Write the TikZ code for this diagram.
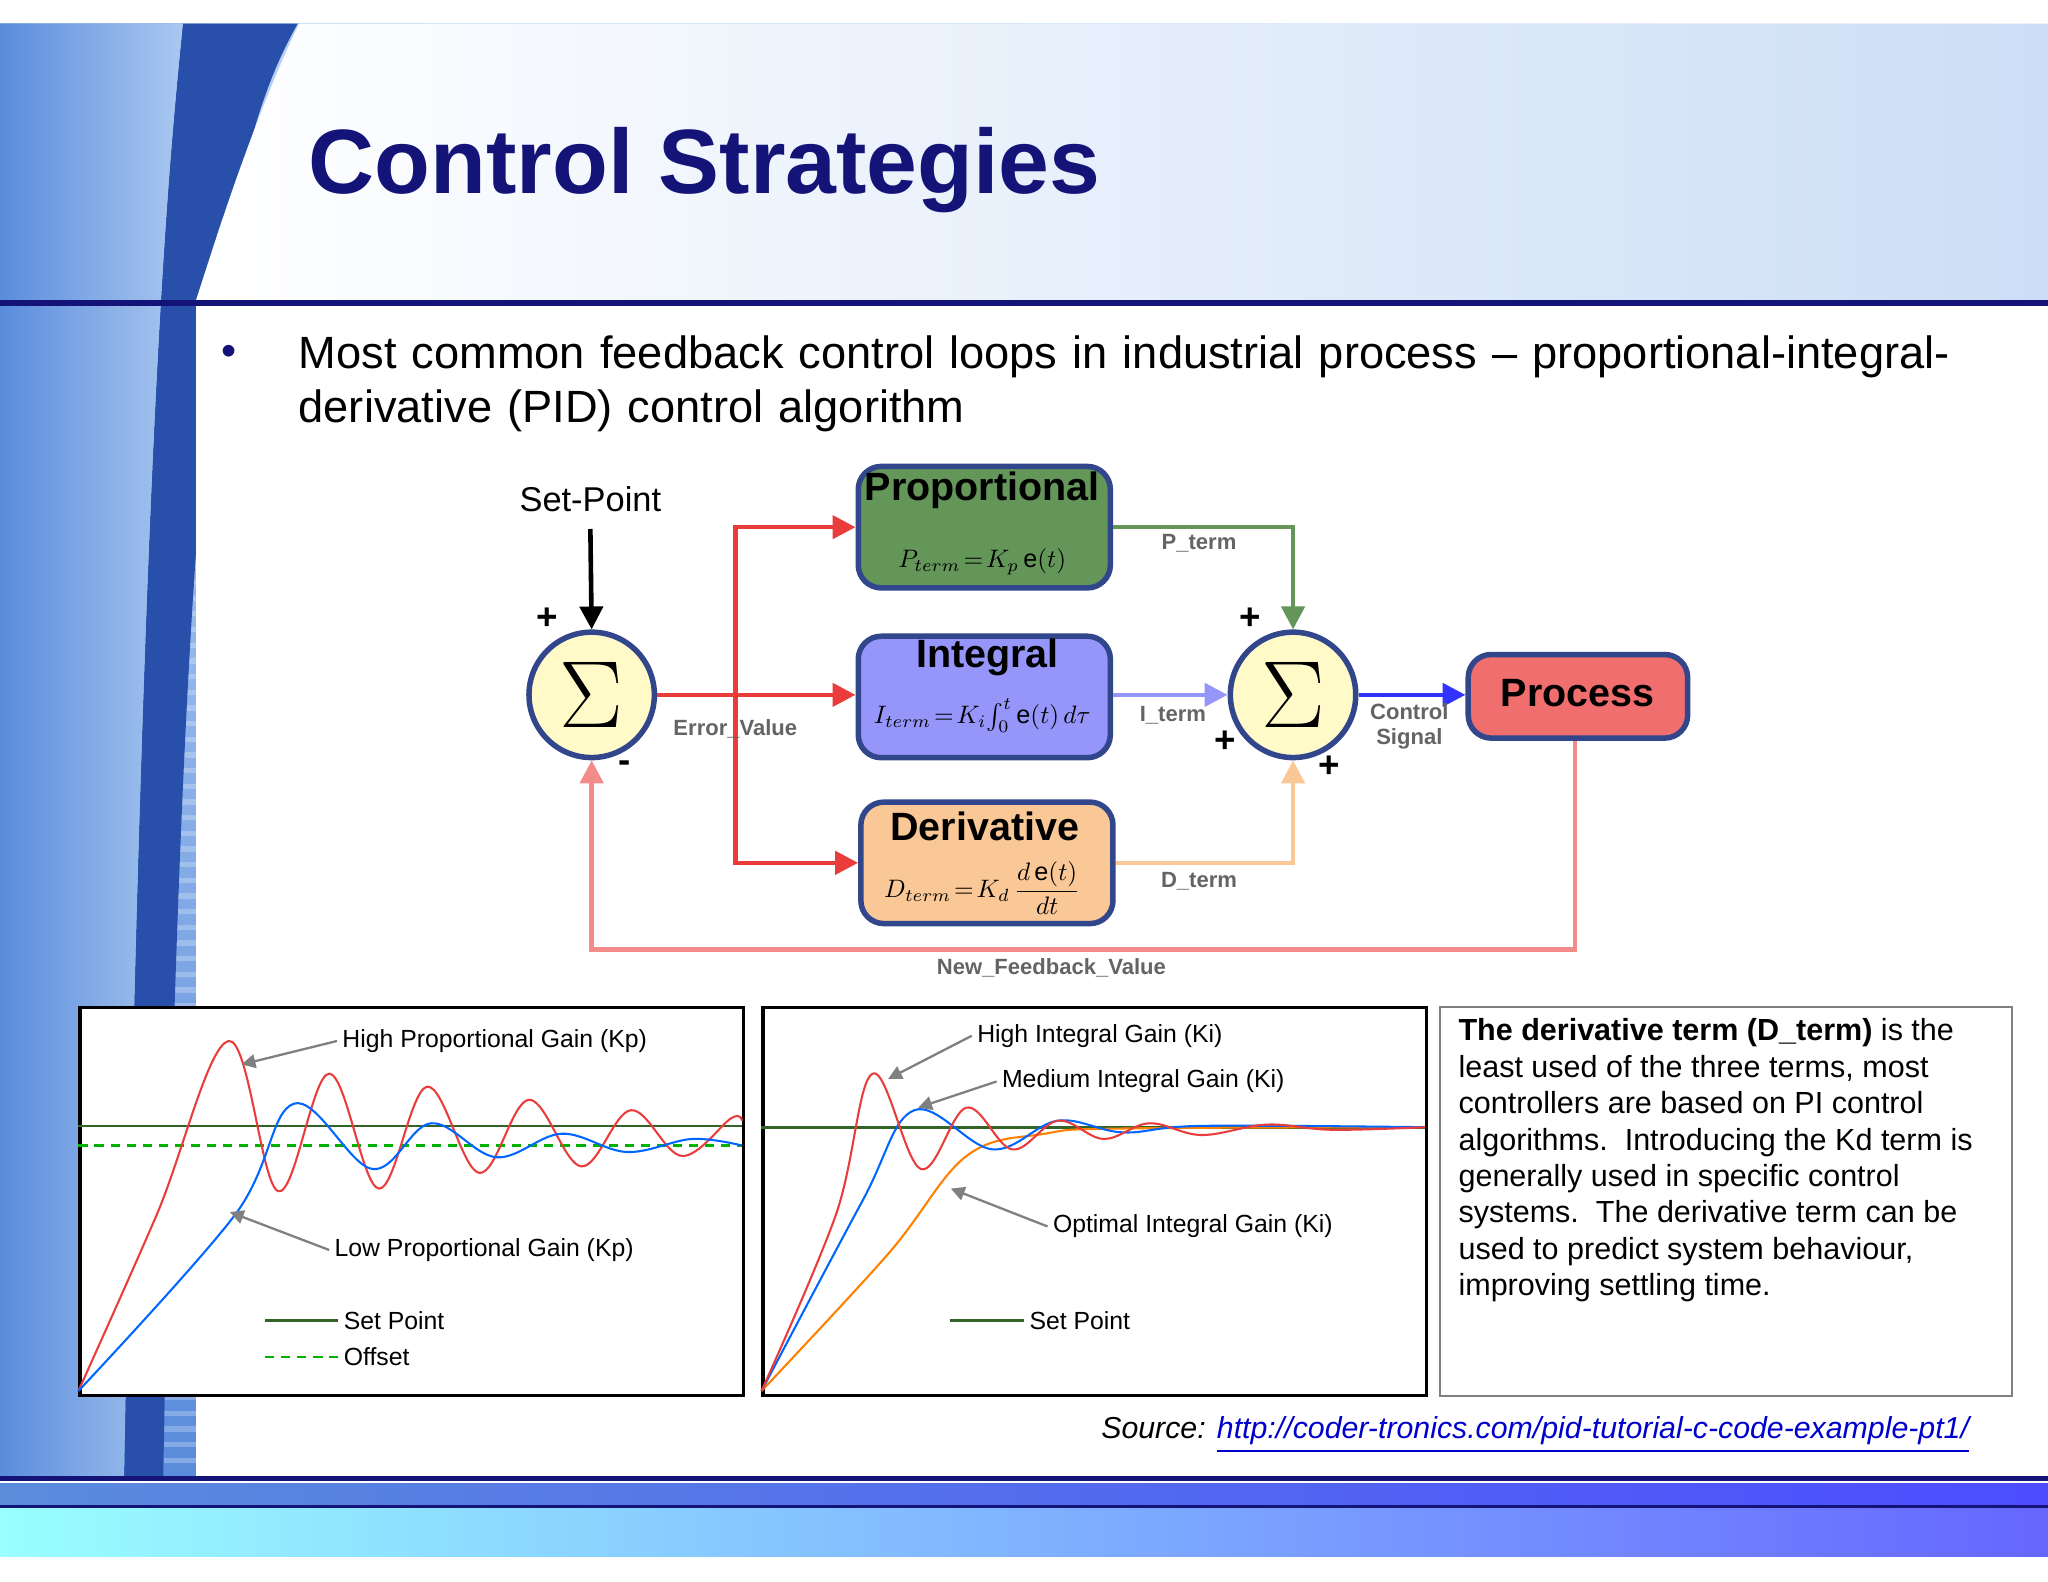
\documentclass[tikz,border=0pt]{standalone}
\usepackage{graphicx}
\usepackage{fontspec}
\setmainfont{Liberation Sans}
\usetikzlibrary{arrows.meta}
\definecolor{navy}{RGB}{20,20,120}
\definecolor{bord}{RGB}{50,70,140}
\definecolor{gfill}{RGB}{100,150,90}
\definecolor{ifill}{RGB}{150,150,250}
\definecolor{dfill}{RGB}{250,200,150}
\definecolor{pfill}{RGB}{240,110,110}
\definecolor{sfill}{RGB}{255,250,200}
\definecolor{redl}{RGB}{235,60,60}
\definecolor{lbl}{RGB}{100,100,100}
\definecolor{sgreen}{RGB}{50,100,40}
\definecolor{lb1}{RGB}{90,140,220}
\definecolor{lb2}{RGB}{170,200,240}
\definecolor{lb3}{RGB}{40,80,170}
\tikzset{
 blk/.style={draw=bord,line width=1.2pt,rounded corners=5pt,anchor=north west},
 sumc/.style={circle,draw=bord,fill=sfill,line width=1.2pt,minimum size=96*0.1mm,inner sep=0pt,font=\fontsize{22}{22}\selectfont},
 small/.style={font=\fontsize{4.8}{5.5}\selectfont\bfseries,text=lbl},
 plus/.style={font=\fontsize{8}{8}\selectfont\bfseries},
 tip/.style={-{Triangle[length=5pt,width=5pt]}},
 plab/.style={font=\fontsize{5.4}{6}\selectfont,anchor=west,inner sep=1pt},
 garr/.style={gray,line width=0.5pt,-{Triangle[length=3pt,width=3pt]}},
 fr/.style={draw=black,fill=white,line width=0.7pt},
 eq/.style={inner sep=0pt},
}
\begin{document}
\begin{tikzpicture}[x=0.1mm,y=-0.1mm]
\useasboundingbox (0,0) rectangle (1568,1211);
\fill[white] (0,0) rectangle (1568,1211);
% header
\shade[left color=lb2,right color=white] (0,18) rectangle (1568,230);
\shade[top color=lb2,bottom color=lb1] (0,234) rectangle (150,1130);
\foreach \yy in {240,252,...,1120} {\fill[white,opacity=0.25] (0,\yy) rectangle (150,\yy+4);}
\fill[lb3] (0,18) -- (228,18) .. controls (170,120) and (140,300) .. (125,1130) -- (95,1130) .. controls (110,300) and (130,120) .. (140,18) -- cycle;
\shade[left color=lb1,right color=lb2] (0,18) -- (140,18) .. controls (130,120) and (110,300) .. (95,1130) -- (0,1130) -- cycle;
\shade[left color=white,right color=lb2!60] (150,230) .. controls (160,200) and (190,100) .. (229,18) -- (1568,18) -- (1568,230) -- cycle;
\fill[white] (150,234) -- (150,1130) -- (1568,1130) -- (1568,234) -- cycle;
\fill[navy] (0,230) rectangle (1568,234);
% bottom band
\fill[navy] (0,1130) rectangle (1568,1134);
\shade[left color=lb1,right color=blue!70] (0,1136) rectangle (1568,1152);
\fill[navy] (0,1152) rectangle (1568,1155);
\shade[left color=cyan!40,right color=blue!60] (0,1155) rectangle (1568,1192);
% title
\node[anchor=west,text=navy,font=\fontsize{19.9}{24}\selectfont\bfseries] (title) at (224,130) {Control Strategies};
\node[font=\fontsize{9.4}{11}\selectfont,text=navy] (bul) at (175,272) {•};
\node[anchor=north west,text width=1300*0.1mm,inner sep=0pt,font=\fontsize{9.85}{11.9}\selectfont] (btxt) at (228,256) {Most common feedback control loops in industrial process – proportional-integral-derivative (PID) control algorithm};
% diagram
\node[sumc] (s1) at (453,532) {$\Sigma$};
\node[sumc] (s2) at (990,532) {$\Sigma$};
\node[blk,fill=gfill,minimum width=193*0.1mm,minimum height=93*0.1mm] (pb) at (655,355) {};
\node[blk,fill=ifill,minimum width=193*0.1mm,minimum height=93*0.1mm] (ib) at (655,485) {};
\node[blk,fill=dfill,minimum width=193*0.1mm,minimum height=93*0.1mm] (db) at (657,612) {};
\node[blk,fill=pfill,minimum width=168*0.1mm,minimum height=64*0.1mm] (pr) at (1122,499) {};
\node[font=\fontsize{8.6}{9}\selectfont\bfseries] (pt) at (752,375) {Proportional};
\node[font=\fontsize{8.6}{9}\selectfont\bfseries] (it) at (756,503) {Integral};
\node[font=\fontsize{8.6}{9}\selectfont\bfseries] (dt) at (754,633) {Derivative};
\node[font=\fontsize{8.6}{9}\selectfont\bfseries] (prt) at (1208,531) {Process};
\node[eq] (pe) at (752,430) {\scalebox{0.55}{$P_{term}\!=\!K_p\,\mathrm{e}(t)$}};
\node[eq] (ie) at (752,548) {\scalebox{0.55}{$I_{term}\!=\!K_i\!\int_0^t \mathrm{e}(t)\,d\tau$}};
\node[eq] (de) at (752,680) {\scalebox{0.55}{$\displaystyle D_{term}\!=\!K_d\,\frac{d\,\mathrm{e}(t)}{dt}$}};
\node[font=\fontsize{7.5}{8}\selectfont] (sp) at (452,382) {Set-Point};
\coordinate (spb) at (452,405);
\draw[tip,line width=1pt] (spb) -- (s1.north);
\node[plus] (p1) at (419,474) {+};
\node[plus] (m1) at (478,587) {-};
\node[plus] (p2) at (957,474) {+};
\node[plus] (p3) at (938,568) {+};
\node[plus] (p4) at (1018,587) {+};
\coordinate (br) at (563,532);
\draw[redl,line width=1pt,tip] (s1.east) -- (ib.west |- s1.east);
\draw[redl,line width=1pt,tip] (br) |- (pb.west);
\draw[redl,line width=1pt,tip] (br) |- (db.west);
\node[small] (ev) at (563,558) {Error\_Value};
\draw[gfill,line width=1pt,tip] (pb.east) -| (s2.north);
\node[small] (ptl) at (918,416) {P\_term};
\draw[ifill,line width=1pt,tip] (ib.east |- s2.west) -- (s2.west);
\node[small] (itl) at (898,548) {I\_term};
\draw[dfill,line width=1pt,tip] (db.east) -| (s2.south);
\node[small] (dtl) at (918,675) {D\_term};
\draw[blue!80,line width=1pt,tip] (s2.east) -- (pr.west |- s2.east);
\node[small,align=center] (cs) at (1079,556) {Control\\Signal};
\coordinate (fb) at (1206,727);
\draw[pfill!80,line width=1pt,tip] (pr.south -| fb) -- (fb) -| (s1.south);
\node[small] (nf) at (805,741) {New\_Feedback\_Value};
% plot 1
\node[fr,anchor=north west,minimum width=508*0.1mm,minimum height=297*0.1mm,inner sep=0pt] (g1) at (60,770) {};
\draw[sgreen,line width=0.6pt] (60,862) -- (568,862);
\draw[green!70!black,dash pattern=on 2pt off 1.5pt,line width=0.5pt] (60,877) -- (568,877);
\draw[redl,line width=0.45pt] plot[smooth,tension=0.6] coordinates {(60,1065) (120,930) (175,797) (213,912) (252,822) (290,910) (327,832) (367,898) (405,842) (445,893) (483,850) (522,885) (560,856) (568,858)};
\draw[blue!60!cyan,line width=0.45pt] plot[smooth,tension=0.6] coordinates {(60,1065) (180,930) (225,845) (285,895) (330,860) (380,886) (430,868) (480,882) (530,872) (568,877)};
\node[plab] (l1) at (258,797) {High Proportional Gain (Kp)};
\draw[garr] (l1.west) -- (185,815);
\node[plab] (l2) at (252,957) {Low Proportional Gain (Kp)};
\draw[garr] (l2.west) -- (176,928);
\node[plab] (l3) at (259,1011) {Set Point};
\draw[sgreen,line width=0.6pt] (203,1011) -- (l3.west);
\node[plab] (l4) at (259,1039) {Offset};
\draw[green!70!black,dash pattern=on 2pt off 1.5pt,line width=0.5pt] (203,1039) -- (l4.west);
% plot 2
\node[fr,anchor=north west,minimum width=508*0.1mm,minimum height=297*0.1mm,inner sep=0pt] (g2) at (583,770) {};
\draw[sgreen,line width=0.6pt] (583,863) -- (1091,863);
\draw[orange,line width=0.45pt] plot[smooth,tension=0.6] coordinates {(583,1065) (680,960) (740,885) (800,868) (860,864) (1091,863)};
\draw[blue!60!cyan,line width=0.45pt] plot[smooth,tension=0.6] coordinates {(583,1065) (660,920) (700,850) (760,880) (810,858) (860,867) (920,862) (1091,863)};
\draw[redl,line width=0.45pt] plot[smooth,tension=0.6] coordinates {(583,1065) (640,930) (668,822) (705,895) (740,848) (775,880) (810,858) (845,872) (880,860) (920,869) (970,861) (1020,865) (1091,863)};
\node[plab] (m1l) at (744,793) {High Integral Gain (Ki)};
\draw[garr] (m1l.west) -- (680,826);
\node[plab] (m2l) at (763,828) {Medium Integral Gain (Ki)};
\draw[garr] (m2l.west) -- (703,848);
\node[plab] (m3l) at (802,939) {Optimal Integral Gain (Ki)};
\draw[garr] (m3l.west) -- (728,910);
\node[plab] (m4l) at (784,1011) {Set Point};
\draw[sgreen,line width=0.6pt] (727,1011) -- (m4l.west);
% text box
\node[draw=gray,fill=white,anchor=north west,minimum width=438*0.1mm,minimum height=298*0.1mm,inner sep=0pt] (tb) at (1102,770) {};
\node[anchor=north west,inner sep=0pt,align=left,font=\fontsize{6.65}{7.95}\selectfont] (tt) at (1116,779) {\textbf{The derivative term (D\_term)} is the\\least used of the three terms, most\\controllers are based on PI control\\algorithms.\ \ Introducing the Kd term is\\generally used in specific control\\systems.\ \ The derivative term can be\\used to predict system behaviour,\\improving settling time.};
\node[anchor=east,font=\fontsize{6.6}{7}\selectfont\itshape] (src) at (1520,1099) {Source: \textcolor{blue!80!black}{\underline{http://coder-tronics.com/pid-tutorial-c-code-example-pt1/}}};
\end{tikzpicture}
\end{document}
